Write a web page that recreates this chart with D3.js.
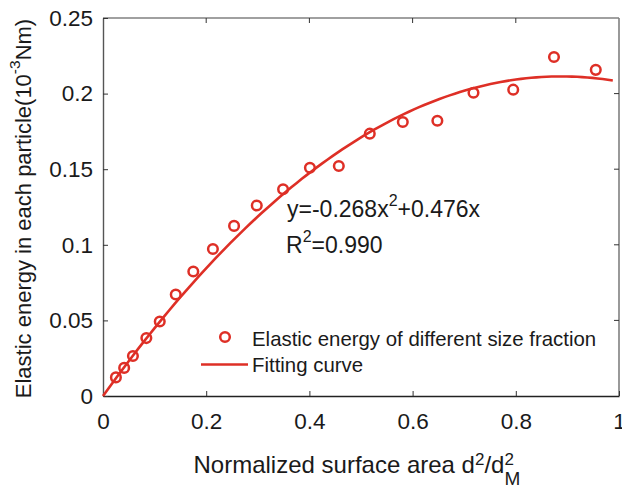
<!DOCTYPE html>
<html><head><meta charset="utf-8">
<script src="https://cdn.jsdelivr.net/npm/d3@7"></script>
<style>body{margin:0;background:#fff}svg{display:block}text{font-family:"Liberation Sans",Arial,sans-serif;fill:#1a1a1a}</style>
</head><body>
<svg id="c" width="622" height="488"></svg>
<script>
const xVals = [0.025,0.041,0.058,0.084,0.110,0.141,0.175,0.213,0.254,0.298,0.349,0.401,0.457,0.517,0.581,0.648,0.718,0.795,0.874,0.955];
const yVals = [0.0123,0.0186,0.0265,0.0383,0.0493,0.0671,0.0823,0.0972,0.1125,0.1260,0.1367,0.1510,0.1521,0.1735,0.1812,0.1820,0.2006,0.2026,0.2242,0.2157];
const fitCoef = [-0.268, 0.476]; // fitted curve shown in the chart: y = a x^2 + b x
const fitRange = [0, 0.988];
const xTicks = [0,0.2,0.4,0.6,0.8,1];
const yTicks = [0,0.05,0.1,0.15,0.2,0.25];
const legendLabels = ["Elastic energy of different size fraction","Fitting curve"];

const red = "#de2f26";
const svg = d3.select("#c");
const L=103, T=18, W=516, H=378;
const x = d3.scaleLinear().domain([0,1]).range([L,L+W]);
const y = d3.scaleLinear().domain([0,0.25]).range([T+H,T]);
const fmt = d => d===0?"0":String(+d.toFixed(2));
const FS = 22.5;

// box
svg.append("line").attr("x1",L).attr("x2",L+W).attr("y1",T).attr("y2",T).attr("stroke","#808080").attr("stroke-width",1.6);
svg.append("line").attr("x1",L+W).attr("x2",L+W).attr("y1",T).attr("y2",T+H).attr("stroke","#808080").attr("stroke-width",1.6);

const xa = svg.append("g").attr("transform",`translate(0,${T+H})`)
  .call(d3.axisBottom(x).tickValues(xTicks).tickFormat(fmt).tickSizeInner(-5).tickSizeOuter(0).tickPadding(17));
const ya = svg.append("g").attr("transform",`translate(${L},0)`)
  .call(d3.axisLeft(y).tickValues(yTicks).tickFormat(fmt).tickSizeInner(-5).tickSizeOuter(0).tickPadding(10));
xa.select(".domain").attr("stroke","#222").attr("stroke-width",1.5);
ya.select(".domain").attr("stroke","#555").attr("stroke-width",1.4);
[xa,ya].forEach(a=>{a.selectAll(".tick line").attr("stroke","#333");a.selectAll(".tick text").attr("font-size",FS).attr("fill","#1a1a1a").attr("font-family","Liberation Sans, Arial, sans-serif");});
// mirrored ticks on top and right
svg.append("g").selectAll("line").data(xTicks.slice(1,-1)).join("line")
  .attr("x1",d=>x(d)).attr("x2",d=>x(d)).attr("y1",T).attr("y2",T+5).attr("stroke","#333");
svg.append("g").selectAll("line").data(yTicks.slice(1,-1)).join("line")
  .attr("x1",L+W).attr("x2",L+W-5).attr("y1",d=>y(d)).attr("y2",d=>y(d)).attr("stroke","#333");

// fit curve
const fx = d3.range(0,101).map(i=>fitRange[0]+(fitRange[1]-fitRange[0])*i/100);
const line = d3.line().x(d=>x(d)).y(d=>y(fitCoef[0]*d*d+fitCoef[1]*d));
svg.append("path").datum(fx).attr("d",line).attr("fill","none").attr("stroke",red).attr("stroke-width",2.6);

// points
svg.append("g").selectAll("circle").data(xVals.map((v,i)=>[v,yVals[i]])).join("circle")
  .attr("cx",d=>x(d[0])).attr("cy",d=>y(d[1])).attr("r",4.8)
  .attr("fill","none").attr("stroke",red).attr("stroke-width",2.5);

// annotation
const a1 = svg.append("text").attr("x",287).attr("y",217).attr("font-size",23);
a1.append("tspan").text("y=-0.268x");
a1.append("tspan").attr("font-size",16).attr("dy",-11).text("2");
a1.append("tspan").attr("dy",11).text("+0.476x");
const a2 = svg.append("text").attr("x",286).attr("y",253).attr("font-size",23);
a2.append("tspan").text("R");
a2.append("tspan").attr("font-size",16).attr("dy",-11).text("2");
a2.append("tspan").attr("dy",11).text("=0.990");

// legend
svg.append("circle").attr("cx",225).attr("cy",337).attr("r",4.8).attr("fill","none").attr("stroke",red).attr("stroke-width",2.5);
svg.append("line").attr("x1",201).attr("x2",248).attr("y1",364.5).attr("y2",364.5).attr("stroke",red).attr("stroke-width",2.6);
svg.append("text").attr("x",252).attr("y",346).attr("font-size",20.4).text(legendLabels[0]);
svg.append("text").attr("x",252).attr("y",372).attr("font-size",20.4).text(legendLabels[1]);

// x title
const xt = svg.append("text").attr("x",193.5).attr("y",472.5).attr("font-size",24);
xt.append("tspan").text("Normalized surface area d");
xt.append("tspan").attr("font-size",17).attr("dy",-8).text("2");
xt.append("tspan").attr("dy",8).text("/d");
xt.append("tspan").attr("font-size",17).attr("dy",-8).text("2");
xt.append("tspan").attr("font-size",19).attr("dx",-9.5).attr("dy",20.5).text("M");

// y title
const yt = svg.append("text").attr("transform","translate(31,208.5) rotate(-90)").attr("text-anchor","middle").attr("font-size",22);
yt.append("tspan").text("Elastic energy in each particle(10");
yt.append("tspan").attr("font-size",15.5).attr("dy",-11).text("-3");
yt.append("tspan").attr("dy",11).text("Nm)");
</script>
</body></html>
